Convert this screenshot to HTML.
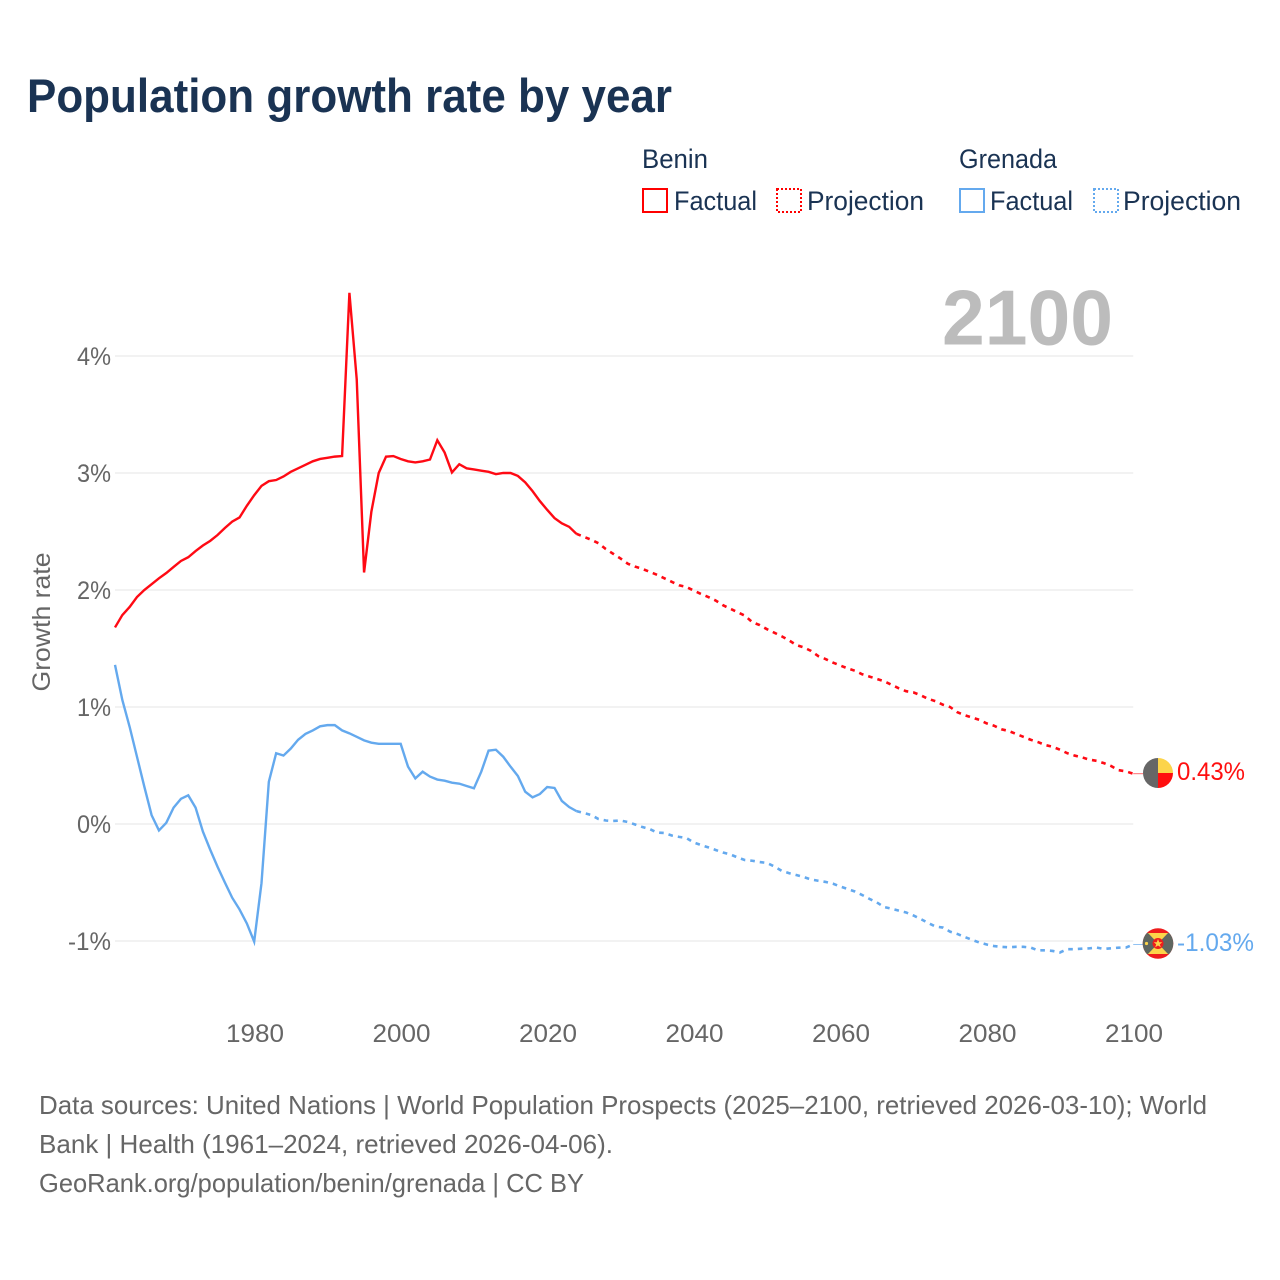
<!DOCTYPE html>
<html lang="en">
<head>
<meta charset="utf-8">
<title>Population growth rate by year</title>
<style>
html,body{margin:0;padding:0;background:#fff;width:1280px;height:1280px;overflow:hidden}
svg{display:block}
text{font-family:"Liberation Sans",sans-serif}
</style>
</head>
<body>
<svg id="chart" xmlns="http://www.w3.org/2000/svg" width="1280" height="1280" viewBox="0 0 1280 1280">
  <defs>
    <clipPath id="clip-benin"><circle cx="1158" cy="773" r="15"/></clipPath>
    <clipPath id="clip-grenada"><circle cx="1158" cy="943.5" r="15.3"/></clipPath>
  </defs>
  <rect x="0" y="0" width="1280" height="1280" fill="#fff"/>
  <text x="27" y="112" font-size="47" font-weight="700" fill="#1a3353" textLength="645" lengthAdjust="spacingAndGlyphs">Population growth rate by year</text>

  <g font-size="27" fill="#1a3353">
    <text x="642" y="168" textLength="66" lengthAdjust="spacingAndGlyphs">Benin</text>
    <text x="959" y="168" textLength="98" lengthAdjust="spacingAndGlyphs">Grenada</text>
    <g>
      <rect x="643" y="189" width="24" height="23" fill="none" stroke="#ff0000" stroke-width="2"/>
      <text x="674" y="210" textLength="83" lengthAdjust="spacingAndGlyphs">Factual</text>
    </g>
    <g>
      <rect x="777" y="189" width="24" height="23" fill="none" stroke="#ff0000" stroke-width="2" stroke-dasharray="2 2"/>
      <text x="807" y="210" textLength="117" lengthAdjust="spacingAndGlyphs">Projection</text>
    </g>
    <g>
      <rect x="960" y="189" width="24" height="23" fill="none" stroke="#64a9ee" stroke-width="2"/>
      <text x="990" y="210" textLength="83" lengthAdjust="spacingAndGlyphs">Factual</text>
    </g>
    <g>
      <rect x="1094" y="189" width="24" height="23" fill="none" stroke="#64a9ee" stroke-width="2" stroke-dasharray="2 2"/>
      <text x="1123" y="210" textLength="118" lengthAdjust="spacingAndGlyphs">Projection</text>
    </g>
  </g>

  <g id="grid"></g>
  <text x="942" y="344.5" font-size="78" font-weight="700" fill="#bcbcbc" textLength="171" lengthAdjust="spacingAndGlyphs">2100</text>
  <g id="yticks" font-size="25" fill="#666"></g>
  <g id="xticks" font-size="25" fill="#666"></g>
  <text transform="translate(50 622) rotate(-90)" text-anchor="middle" font-size="25" fill="#666" textLength="139" lengthAdjust="spacingAndGlyphs">Growth rate</text>
  <g id="series"></g>

  <g clip-path="url(#clip-benin)">
    <rect x="1143" y="758" width="15" height="30" fill="#666"/>
    <rect x="1158" y="758" width="15" height="15" fill="#fcd44a"/>
    <rect x="1158" y="773" width="15" height="15" fill="#ff0f0f"/>
  </g>
  <g clip-path="url(#clip-grenada)">
    <rect x="1142" y="928" width="32" height="32" fill="#ee1c1c"/>
    <rect x="1142" y="933" width="32" height="21" fill="#5f6660"/>
    <polygon points="1148,933 1168,933 1158,943.5" fill="#fcd44a"/>
    <polygon points="1148,954 1168,954 1158,943.5" fill="#fcd44a"/>
    <circle cx="1158" cy="943.5" r="5.5" fill="#ee1c1c"/>
    <polygon points="1158,939 1159.2,942.2 1162.3,942.2 1159.8,944.3 1160.8,947.3 1158,945.5 1155.2,947.3 1156.2,944.3 1153.7,942.2 1156.8,942.2" fill="#fcd44a"/>
    <circle cx="1146.5" cy="943.5" r="1.6" fill="#fcd44a"/>
  </g>
  <text x="1177" y="780" font-size="25" fill="#ff0f0f" textLength="68" lengthAdjust="spacingAndGlyphs">0.43%</text>
  <text x="1177" y="951" font-size="25" fill="#64a9ee" textLength="77" lengthAdjust="spacingAndGlyphs">-1.03%</text>

  <g font-size="26" fill="#666">
    <text x="39" y="1114" textLength="1168" lengthAdjust="spacingAndGlyphs">Data sources: United Nations | World Population Prospects (2025–2100, retrieved 2026-03-10); World</text>
    <text x="39" y="1153" textLength="574" lengthAdjust="spacingAndGlyphs">Bank | Health (1961–2024, retrieved 2026-04-06).</text>
    <text x="39" y="1192" textLength="545" lengthAdjust="spacingAndGlyphs">GeoRank.org/population/benin/grenada | CC BY</text>
  </g>
</svg>
<script>
const firstYear = 1961;
const lastYear = 2100;
const yTickValues = [4, 3, 2, 1, 0, -1];
const yTickLabels = ["4%", "3%", "2%", "1%", "0%", "-1%"];
const xTickValues = [1980, 2000, 2020, 2040, 2060, 2080, 2100];
const xTickLabels = ["1980", "2000", "2020", "2040", "2060", "2080", "2100"];

// 1961–2024
const beninFactual = [1.68,1.786,1.855,1.94,2.0,2.05,2.10,2.145,2.197,2.248,2.28,2.333,2.38,2.42,2.47,2.53,2.585,2.62,2.72,2.81,2.89,2.93,2.94,2.97,3.01,3.04,3.07,3.10,3.12,3.13,3.14,3.145,4.54,3.80,2.15,2.67,3.00,3.14,3.145,3.12,3.10,3.09,3.10,3.115,3.28,3.175,3.005,3.075,3.04,3.03,3.02,3.01,2.99,3.0,3.0,2.975,2.92,2.845,2.76,2.685,2.615,2.57,2.54,2.48];
// 2025–2100
const beninProjection = [2.455,2.43,2.40,2.35,2.31,2.27,2.225,2.20,2.18,2.155,2.13,2.10,2.07,2.04,2.026,1.995,1.966,1.94,1.91,1.87,1.84,1.81,1.78,1.725,1.70,1.665,1.635,1.605,1.57,1.53,1.51,1.48,1.435,1.41,1.38,1.355,1.33,1.31,1.28,1.26,1.24,1.22,1.19,1.16,1.135,1.125,1.10,1.07,1.05,1.02,1.0,0.955,0.93,0.91,0.89,0.86,0.84,0.81,0.795,0.77,0.745,0.72,0.70,0.675,0.66,0.635,0.605,0.585,0.57,0.55,0.54,0.52,0.495,0.46,0.45,0.43];
// 1961–2024
const grenadaFactual = [1.36,1.06,0.83,0.575,0.32,0.075,-0.055,0.01,0.14,0.215,0.245,0.14,-0.065,-0.22,-0.365,-0.5,-0.63,-0.73,-0.85,-1.005,-0.505,0.36,0.605,0.585,0.645,0.72,0.77,0.80,0.835,0.845,0.845,0.80,0.775,0.745,0.715,0.695,0.685,0.685,0.685,0.685,0.49,0.39,0.447,0.405,0.38,0.37,0.353,0.345,0.325,0.305,0.447,0.627,0.635,0.575,0.49,0.41,0.276,0.228,0.256,0.316,0.308,0.197,0.145,0.11];
// 2025–2100
const grenadaProjection = [0.094,0.077,0.043,0.03,0.026,0.03,0.017,-0.004,-0.026,-0.043,-0.073,-0.077,-0.098,-0.11,-0.12,-0.158,-0.18,-0.2,-0.222,-0.244,-0.26,-0.286,-0.308,-0.314,-0.325,-0.333,-0.363,-0.40,-0.42,-0.436,-0.453,-0.474,-0.485,-0.495,-0.51,-0.534,-0.555,-0.577,-0.607,-0.64,-0.67,-0.71,-0.724,-0.74,-0.756,-0.782,-0.812,-0.846,-0.876,-0.885,-0.92,-0.94,-0.966,-0.99,-1.013,-1.03,-1.043,-1.05,-1.054,-1.05,-1.05,-1.056,-1.08,-1.08,-1.085,-1.098,-1.07,-1.07,-1.066,-1.063,-1.056,-1.068,-1.062,-1.057,-1.056,-1.03];

const NS = "http://www.w3.org/2000/svg";
const plotLeft = 115, plotRight = 1133.2;
function xScale(year) {
  return plotLeft + (year - firstYear) * (plotRight - plotLeft) / (lastYear - firstYear);
}
function yScale(value) {
  return 824 - value * 117;
}
function pathFrom(values, startYear) {
  let d = "";
  for (let i = 0; i < values.length; i++) {
    d += (i ? "L" : "M") + xScale(startYear + i).toFixed(2) + " " + yScale(values[i]).toFixed(2);
  }
  return d;
}

const grid = document.getElementById("grid");
const yticks = document.getElementById("yticks");
yTickValues.forEach(function (v, i) {
  const line = document.createElementNS(NS, "line");
  
  
  line.setAttribute("x1", plotLeft);
  line.setAttribute("x2", plotRight);
  line.setAttribute("y1", yScale(v));
  line.setAttribute("y2", yScale(v));
  line.setAttribute("stroke", "#eeeeee");
  line.setAttribute("stroke-width", "1.6");
  grid.appendChild(line);

  const label = document.createElementNS(NS, "text");
  
  
  label.setAttribute("x", 111);
  label.setAttribute("y", yScale(v) + 9);
  label.setAttribute("text-anchor", "end");
  label.setAttribute("textLength", yTickLabels[i].length === 3 ? 43 : 34);
  label.setAttribute("lengthAdjust", "spacingAndGlyphs");
  label.textContent = yTickLabels[i];
  yticks.appendChild(label);
});

const xticks = document.getElementById("xticks");
xTickValues.forEach(function (year, i) {
  const label = document.createElementNS(NS, "text");
  
  
  label.setAttribute("x", xScale(year) + 0.8);
  label.setAttribute("y", 1042);
  label.setAttribute("text-anchor", "middle");
  label.setAttribute("textLength", 58);
  label.setAttribute("lengthAdjust", "spacingAndGlyphs");
  label.textContent = xTickLabels[i];
  xticks.appendChild(label);
});

const series = document.getElementById("series");

const beninFactualLine = document.createElementNS(NS, "path");


beninFactualLine.setAttribute("d", pathFrom(beninFactual, firstYear));
beninFactualLine.setAttribute("fill", "none");
beninFactualLine.setAttribute("stroke", "#ff0a14");
beninFactualLine.setAttribute("stroke-width", "2.4");
series.appendChild(beninFactualLine);

const beninProjectionLine = document.createElementNS(NS, "path");


beninProjectionLine.setAttribute("d", pathFrom([beninFactual[beninFactual.length - 1]].concat(beninProjection), 2024));
beninProjectionLine.setAttribute("fill", "none");
beninProjectionLine.setAttribute("stroke", "#ff0a14");
beninProjectionLine.setAttribute("stroke-width", "2.6");
beninProjectionLine.setAttribute("stroke-dasharray", "4.6 5");
series.appendChild(beninProjectionLine);

const grenadaFactualLine = document.createElementNS(NS, "path");


grenadaFactualLine.setAttribute("d", pathFrom(grenadaFactual, firstYear));
grenadaFactualLine.setAttribute("fill", "none");
grenadaFactualLine.setAttribute("stroke", "#64a9ee");
grenadaFactualLine.setAttribute("stroke-width", "2.4");
series.appendChild(grenadaFactualLine);

const grenadaProjectionLine = document.createElementNS(NS, "path");


grenadaProjectionLine.setAttribute("d", pathFrom([grenadaFactual[grenadaFactual.length - 1]].concat(grenadaProjection), 2024));
grenadaProjectionLine.setAttribute("fill", "none");
grenadaProjectionLine.setAttribute("stroke", "#64a9ee");
grenadaProjectionLine.setAttribute("stroke-width", "2.6");
grenadaProjectionLine.setAttribute("stroke-dasharray", "4.6 5");
series.appendChild(grenadaProjectionLine);

const beninConnector = document.createElementNS(NS, "line");


beninConnector.setAttribute("x1", xScale(lastYear));
beninConnector.setAttribute("x2", 1143);
beninConnector.setAttribute("y1", yScale(beninProjection[beninProjection.length - 1]));
beninConnector.setAttribute("y2", yScale(beninProjection[beninProjection.length - 1]));
beninConnector.setAttribute("stroke", "#ff0a14");
beninConnector.setAttribute("stroke-opacity", "0.6");
beninConnector.setAttribute("stroke-width", "1");
series.appendChild(beninConnector);

const grenadaConnector = document.createElementNS(NS, "line");


grenadaConnector.setAttribute("x1", xScale(lastYear));
grenadaConnector.setAttribute("x2", 1143);
grenadaConnector.setAttribute("y1", yScale(grenadaProjection[grenadaProjection.length - 1]));
grenadaConnector.setAttribute("y2", yScale(grenadaProjection[grenadaProjection.length - 1]));
grenadaConnector.setAttribute("stroke", "#64a9ee");
grenadaConnector.setAttribute("stroke-opacity", "0.7");
grenadaConnector.setAttribute("stroke-width", "1");
series.appendChild(grenadaConnector);
</script>
</body>
</html>
